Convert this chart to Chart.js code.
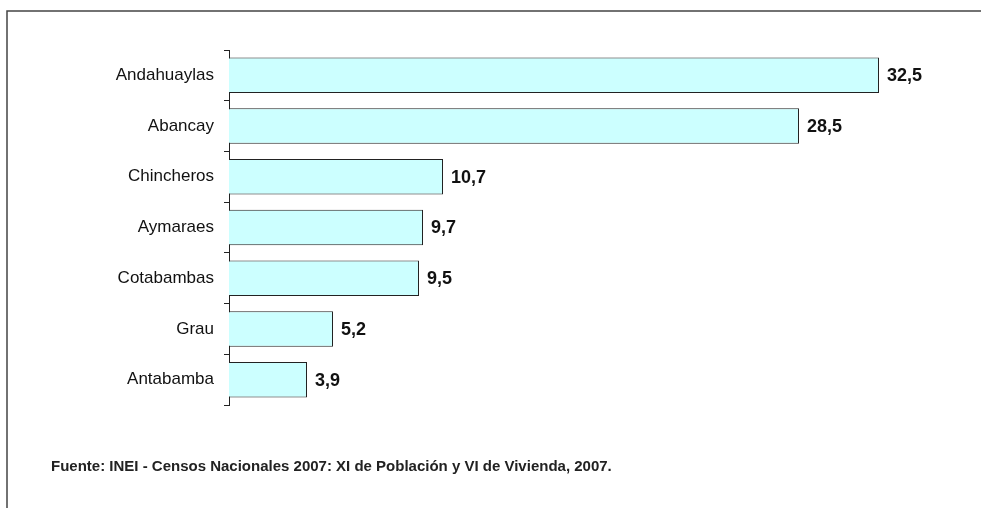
<!DOCTYPE html>
<html>
<head>
<meta charset="utf-8">
<script src="https://cdn.jsdelivr.net/npm/chart.js@4"></script>
<style>
  html, body { margin: 0; padding: 0; background: #fff; }
  #wrap { width: 981px; height: 508px; position: relative; }
</style>
</head>
<body>
<div id="wrap"><canvas id="chart" width="981" height="508"></canvas></div>
<script>
// datos del gráfico
const provincias = ["Andahuaylas", "Abancay", "Chincheros", "Aymaraes", "Cotabambas", "Grau", "Antabamba"];
const porcentajes = [32.5, 28.5, 10.7, 9.7, 9.5, 5.2, 3.9];
const fuente = "Fuente: INEI - Censos Nacionales 2007: XI de Población y VI de Vivienda, 2007.";

const FONT = "'Liberation Sans', Arial, sans-serif";

// etiquetas de valor, marco y nota de fuente
const extras = {
    id: "extras",
    afterDatasetsDraw(chart) {
        const ctx = chart.ctx;
        const meta = chart.getDatasetMeta(0);
        ctx.save();
        ctx.fillStyle = "#111";
        ctx.font = "bold 18px " + FONT;
        ctx.textAlign = "left";
        ctx.textBaseline = "middle";
        meta.data.forEach((bar, i) => {
            ctx.fillText(porcentajes[i].toFixed(1).replace(".", ","), bar.x + 8, bar.y + 1);
        });
        ctx.restore();
    },
    afterDraw(chart) {
        const ctx = chart.ctx;
        ctx.save();
        ctx.strokeStyle = "#444";
        ctx.lineWidth = 1.5;
        ctx.beginPath();
        ctx.moveTo(7, 508);
        ctx.lineTo(7, 11);
        ctx.lineTo(981, 11);
        ctx.stroke();
        ctx.fillStyle = "#222";
        ctx.font = "bold 15px " + FONT;
        ctx.textBaseline = "middle";
        ctx.fillText(fuente, 51, 467);
        ctx.restore();
    }
};

new Chart(document.getElementById("chart"), {
    type: "bar",
    data: {
        labels: provincias,
        datasets: [{
            data: porcentajes,
            backgroundColor: "#CCFFFF",
            borderColor: "#222",
            borderWidth: 1,
            barPercentage: 0.7,
            categoryPercentage: 1.0
        }]
    },
    options: {
        indexAxis: "y",
        responsive: false,
        animation: false,
        layout: { padding: { top: 50, right: 52, bottom: 103, left: 0 } },
        plugins: { legend: { display: false }, tooltip: { enabled: false } },
        scales: {
            x: { display: false, min: 0, max: 35 },
            y: {
                afterFit(scale) { scale.width = 229; },
                border: { display: true, color: "#222", width: 1 },
                grid: { drawOnChartArea: false, drawTicks: true, tickLength: 5, color: "#222", offset: true },
                ticks: { color: "#111", padding: 10, font: { family: FONT, size: 17 } }
            }
        }
    },
    plugins: [extras]
});
</script>
</body>
</html>
